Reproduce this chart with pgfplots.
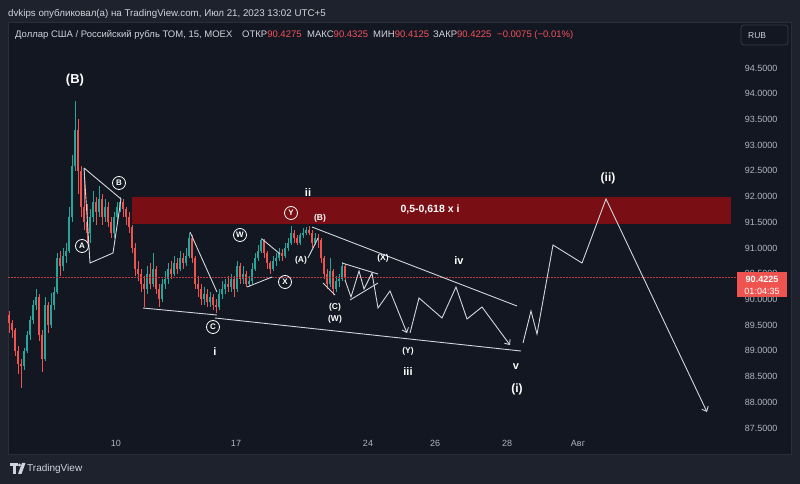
\documentclass[border=0pt]{standalone}
\usepackage{pgfplots}
\pgfplotsset{compat=1.18}
\usepackage{pgfplotstable}
\usepackage{fontspec}
\setmainfont{Liberation Sans}
\usetikzlibrary{arrows.meta}

\definecolor{bgout}{RGB}{30,34,45}
\definecolor{panel}{RGB}{19,23,34}
\definecolor{frame}{RGB}{42,46,57}
\definecolor{boxline}{RGB}{54,58,69}
\definecolor{txt}{RGB}{209,212,220}
\definecolor{axtxt}{RGB}{178,181,190}
\definecolor{upc}{RGB}{38,166,154}
\definecolor{dnc}{RGB}{239,83,80}
\definecolor{dots}{RGB}{190,60,62}
\definecolor{hred}{RGB}{242,82,90}
\definecolor{band}{RGB}{121,14,20}
\definecolor{wave}{RGB}{210,213,220}

% USD/RUB TOM, 15 min bars (x = bar position on the chart)
\pgfplotstableread{
x o h l c
9 89.70 89.78 89.35 89.55
12 89.55 89.60 89.25 89.40
15 89.40 89.45 88.90 89.00
18 89.00 89.10 88.55 88.75
21 88.75 88.85 88.28 88.70
24 88.70 89.05 88.62 89.00
27 89.00 89.38 88.95 89.30
30 89.30 89.68 89.22 89.60
33 89.60 89.98 89.52 89.90
36 89.90 90.20 89.80 90.05
39 90.05 90.10 89.20 89.30
42 89.30 89.40 88.58 88.85
45 88.85 90.05 88.80 89.90
48 89.90 89.95 89.35 89.50
51 89.50 90.12 89.45 89.90
54 89.90 90.25 89.80 90.15
57 90.15 90.90 90.10 90.80
60 90.80 90.95 90.45 90.65
63 90.65 91.00 90.55 90.85
66 90.85 91.10 90.70 90.95
69 90.95 91.80 90.90 91.60
72 91.60 92.80 91.50 92.60
75 92.60 93.85 92.50 93.30
78 93.30 93.50 92.05 92.50
81 92.50 92.60 91.60 91.80
84 91.80 92.50 91.35 91.50
87 91.50 91.85 91.10 91.30
90 91.30 91.75 91.10 91.60
93 91.60 92.10 91.50 91.90
96 91.90 92.00 91.45 91.70
99 91.70 92.20 91.60 91.95
102 91.95 92.05 91.45 91.60
105 91.60 91.95 91.50 91.80
108 91.80 91.90 91.40 91.50
111 91.50 91.60 91.20 91.30
114 91.30 91.70 91.20 91.60
117 91.60 91.90 91.50 91.80
120 91.80 92.00 91.70 91.90
123 91.90 91.95 91.60 91.75
126 91.75 91.80 91.45 91.60
129 91.60 91.70 91.30 91.40
132 91.40 91.45 90.90 91.00
135 91.00 91.10 90.45 90.60
138 90.60 90.75 90.35 90.50
141 90.50 90.60 90.15 90.30
144 90.30 90.45 89.85 90.20
147 90.20 90.65 90.10 90.50
150 90.50 90.70 90.20 90.30
153 90.30 90.90 90.25 90.60
156 90.60 90.65 90.10 90.20
159 90.20 90.30 89.85 90.00
162 90.00 90.40 89.95 90.30
165 90.30 90.55 90.20 90.40
168 90.40 90.70 90.30 90.60
171 90.60 90.75 90.40 90.50
174 90.50 90.85 90.45 90.70
177 90.70 90.80 90.50 90.60
180 90.60 90.95 90.55 90.80
183 90.80 90.90 90.60 90.70
186 90.70 91.00 90.65 90.85
189 90.85 91.30 90.80 91.20
192 91.20 91.25 90.70 90.80
195 90.80 90.85 90.20 90.30
198 90.30 90.45 90.05 90.20
201 90.20 90.30 89.90 90.00
204 90.00 90.25 89.90 90.10
207 90.10 90.20 89.85 89.95
210 89.95 90.15 89.85 90.05
213 90.05 90.10 89.80 89.90
216 89.90 90.00 89.74 89.85
219 89.85 90.20 89.80 90.10
222 90.10 90.35 90.00 90.20
225 90.20 90.40 90.10 90.30
228 90.30 90.45 90.15 90.25
231 90.25 90.50 90.15 90.40
234 90.40 90.45 90.05 90.20
237 90.20 90.75 90.15 90.65
240 90.65 90.70 90.30 90.40
243 90.40 90.65 90.30 90.50
246 90.50 90.55 90.25 90.30
249 90.30 90.45 90.25 90.35
252 90.35 90.70 90.30 90.60
255 90.60 90.90 90.55 90.80
258 90.80 91.05 90.75 90.95
261 90.95 91.20 90.90 91.15
264 91.15 91.18 90.80 90.90
267 90.90 90.95 90.60 90.70
270 90.70 90.75 90.50 90.60
273 90.60 90.85 90.55 90.75
276 90.75 90.90 90.65 90.80
279 90.80 91.00 90.75 90.90
282 90.90 90.98 90.75 90.85
285 90.85 91.10 90.80 91.00
288 91.00 91.20 90.95 91.10
291 91.10 91.42 91.05 91.30
294 91.30 91.35 91.10 91.20
297 91.20 91.25 91.05 91.10
300 91.10 91.30 91.05 91.25
303 91.25 91.38 91.20 91.30
306 91.30 91.40 91.25 91.35
309 91.35 91.42 91.25 91.30
312 91.30 91.35 91.00 91.10
315 91.10 91.30 91.05 91.20
318 91.20 91.28 91.00 91.15
321 91.15 91.20 90.70 90.80
324 90.80 90.85 90.40 90.50
327 90.50 90.60 90.20 90.30
330 90.30 90.80 90.25 90.55
333 90.55 90.60 90.08 90.20
336 90.20 90.45 90.15 90.35
339 90.35 90.50 90.25 90.40
342 90.40 90.72 90.35 90.65
345 90.65 90.68 90.38 90.42
}\candles

% chart pixel position (origin top left) -> picture point
\newcommand\ab[2]{({#1pt},{484pt-#2pt})}

\pgfplotsset{
  wick/.style={draw=none, mark=none, forget plot,
    error bars/y dir=plus, error bars/y explicit, error bars/error mark=none,
    error bars/error bar style={line width=0.6pt, draw=#1}},
  body/.style={draw=none, mark=none, forget plot,
    error bars/y dir=plus, error bars/y explicit, error bars/error mark=none,
    error bars/error bar style={line width=1.9pt, draw=#1}},
  annot/.style={wave, line width=0.9pt, mark=none, forget plot},
}

\begin{document}
\begin{tikzpicture}
\fill[bgout] (0,0) rectangle (800pt,484pt);
\fill[panel] \ab{8}{22} rectangle \ab{791}{454};
\draw[frame, line width=0.8pt] \ab{8}{22} rectangle \ab{791}{454};

\begin{axis}[
  at={(0,0)}, anchor=south west, scale only axis,
  width=800pt, height=484pt,
  xmin=0, xmax=800, ymin=86.4113, ymax=95.8222,
  axis line style={draw=none}, major tick length=0pt,
  xtick={116,236,368,435,507,578},
  xticklabels={10,17,24,26,28,Авг},
  xticklabel style={anchor=center, yshift=41pt, text=axtxt, font=\fontsize{9}{10}\selectfont},
  ytick={87.5,88,...,94.5},
  yticklabel pos=right,
  yticklabel style={anchor=east, xshift=-19pt, text=axtxt, font=\fontsize{9}{10}\selectfont,
    /pgf/number format/fixed, /pgf/number format/fixed zerofill,
    /pgf/number format/precision=4, /pgf/number format/assume math mode=true},
]
% Fibonacci zone 0.5-0.618
\addplot[fill=band, draw=none, forget plot] coordinates {(132,91.467) (731,91.467) (731,91.992) (132,91.992)} -- cycle;

% candles
\addplot[wick=upc] table[x=x, y expr={\thisrow{c}>=\thisrow{o} ? \thisrow{l} : nan}, y error expr={\thisrow{h}-\thisrow{l}}] {\candles};
\addplot[wick=dnc] table[x=x, y expr={\thisrow{c}<\thisrow{o} ? \thisrow{l} : nan}, y error expr={\thisrow{h}-\thisrow{l}}] {\candles};
\addplot[body=upc] table[x=x, y expr={\thisrow{c}>=\thisrow{o} ? \thisrow{o} : nan}, y error expr={\thisrow{c}-\thisrow{o}}] {\candles};
\addplot[body=dnc] table[x=x, y expr={\thisrow{c}<\thisrow{o} ? \thisrow{c} : nan}, y error expr={\thisrow{o}-\thisrow{c}}] {\candles};

% last price
\addplot[dots, line width=0.8pt, dash pattern=on 1.5pt off 1.5pt, forget plot] coordinates {(8,90.4225) (737,90.4225)};

% wave markup
\addplot[annot] coordinates {(84,92.556) (121,91.953) (113,90.903) (90,90.708) (84,92.556)};
\addplot[annot] coordinates {(190,91.311) (217,90.144)};
\addplot[annot] coordinates {(143,89.833) (217,89.697)};
\addplot[annot] coordinates {(215,89.639) (521,88.997)};
\addplot[annot] coordinates {(262,91.175) (280,90.884)};
\addplot[annot] coordinates {(247,90.242) (272,90.436)};
\addplot[annot] coordinates {(308,90.806) (318,91.194)};
\addplot[annot] coordinates {(312,91.408) (517,89.872)};
\addplot[annot] coordinates {(323,90.319) (335,90.086)};
\addplot[annot] coordinates {(342,90.708) (378,90.494)};
\addplot[annot] coordinates {(350,89.989) (378,90.319)};
\addplot[annot, -{Straight Barb[length=4pt,width=7pt]}] coordinates {(345,90.378) (351,90.047) (359,90.553) (364,90.203) (372,90.514) (378,89.833) (390,90.164) (407,89.347)};
\addplot[annot, -{Straight Barb[length=4pt,width=7pt]}] coordinates {(410,89.347) (419,90.028) (442,89.639) (456,90.242) (467,89.620) (482,89.853) (510,89.114)};
\addplot[annot, -{Straight Barb[length=4pt,width=7pt]}] coordinates {(523,89.153) (531,89.775) (537,89.328) (553,91.058) (582,90.708) (606,91.953) (707,87.811)};
\end{axis}

\tikzset{
  lab/.style={text=white, font=\bfseries\fontsize{11}{12}\selectfont, inner sep=0pt},
  slab/.style={text=white, font=\bfseries\fontsize{8.5}{9}\selectfont, inner sep=0pt},
  clab/.style={circle, draw=white, line width=0.8pt, minimum size=13pt, inner sep=0pt,
    text=white, font=\bfseries\fontsize{8}{8}\selectfont},
}
\node[lab, font=\bfseries\fontsize{13}{14}\selectfont] at \ab{75}{80} {(B)};
\node[clab] at \ab{82}{246} {A};
\node[clab] at \ab{119}{183} {B};
\node[clab] at \ab{240}{235} {W};
\node[clab] at \ab{285}{282} {X};
\node[clab] at \ab{291}{213} {Y};
\node[clab] at \ab{213}{327} {C};
\node[lab] at \ab{308}{193} {ii};
\node[slab] at \ab{320}{218} {(B)};
\node[slab] at \ab{301}{260} {(A)};
\node[slab] at \ab{383}{258} {(X)};
\node[slab] at \ab{335}{307} {(C)};
\node[slab] at \ab{335}{319} {(W)};
\node[lab] at \ab{215}{352} {i};
\node[slab] at \ab{408}{351} {(Y)};
\node[lab] at \ab{408}{372} {iii};
\node[lab] at \ab{459}{261} {iv};
\node[lab] at \ab{516}{367} {v};
\node[lab, font=\bfseries\fontsize{12}{13}\selectfont] at \ab{517}{389} {(i)};
\node[lab, font=\bfseries\fontsize{12}{13}\selectfont] at \ab{608}{178} {(ii)};
\node[text=white, font=\bfseries\fontsize{10.5}{12}\selectfont] at \ab{430}{210} {0,5-0,618 x i};

% header
\node[anchor=base west, text=txt, font=\fontsize{9.75}{11}\selectfont, inner sep=0pt] at \ab{8}{17} {dvkips опубликовал(а) на TradingView.com, Июл 21, 2023 13:02 UTC+5};
\begin{scope}[every node/.style={anchor=base west, text=txt, font=\fontsize{9.5}{10}\selectfont, inner sep=0pt}]
\node at \ab{15}{37.5} {Доллар США / Российский рубль ТОМ, 15, MOEX};
\node at \ab{242}{37.5} {ОТКР\textcolor{hred}{90.4275}};
\node at \ab{307}{37.5} {МАКС\textcolor{hred}{90.4325}};
\node at \ab{373}{37.5} {МИН\textcolor{hred}{90.4125}};
\node at \ab{433}{37.5} {ЗАКР\textcolor{hred}{90.4225}};
\node at \ab{497}{37.5} {\textcolor{hred}{−0.0075 (−0.01\%)}};
\end{scope}
\draw[boxline, fill=panel, rounded corners=3pt, line width=0.8pt] \ab{741}{25} rectangle \ab{788}{45};
\node[anchor=base west, text=txt, font=\fontsize{8.5}{9}\selectfont, inner sep=0pt] at \ab{748}{39} {RUB};

% last price tag
\fill[dnc] \ab{737}{272} rectangle \ab{787}{297};
\node[text=white, font=\bfseries\fontsize{9}{10}\selectfont, inner sep=0pt] at \ab{762}{279.5} {90.4225};
\node[text=white, font=\fontsize{9}{10}\selectfont, inner sep=0pt] at \ab{762}{291} {01:04:35};

% footer logo
\fill[txt] \ab{10}{463} rectangle \ab{17.5}{466};
\fill[txt] \ab{13}{466} rectangle \ab{16}{474};
\fill[txt] \ab{19.5}{465} circle (1.6pt);
\fill[txt] \ab{22}{463} -- \ab{25.5}{463} -- \ab{21.5}{474} -- \ab{18}{474} -- cycle;
\node[anchor=base west, text=txt, font=\fontsize{10}{11}\selectfont, inner sep=0pt] at \ab{27}{472} {TradingView};

\pgfresetboundingbox
\path (0,0) rectangle (800pt,484pt);
\end{tikzpicture}
\end{document}
